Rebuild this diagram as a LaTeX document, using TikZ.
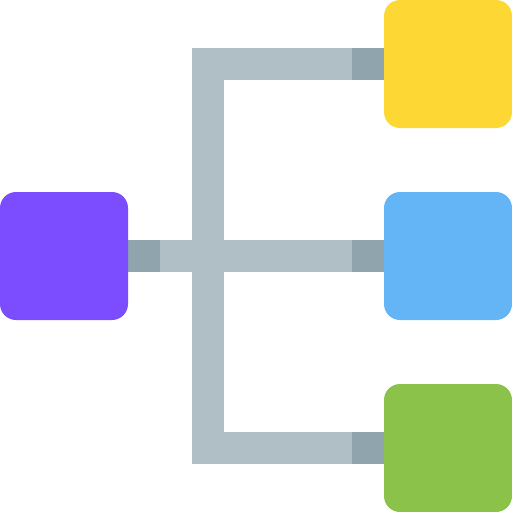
\documentclass[tikz,border=0pt]{standalone}
\definecolor{cpurple}{HTML}{7C4DFF}
\definecolor{cyellow}{HTML}{FDD835}
\definecolor{cblue}{HTML}{64B5F6}
\definecolor{cgreen}{HTML}{8BC34A}
\definecolor{cbar}{HTML}{B0BEC5}
\definecolor{cbardark}{HTML}{90A4AE}
\begin{document}
\begin{tikzpicture}[x=1pt,y=-1pt,
  box/.style={minimum width=128pt,minimum height=128pt,rounded corners=16pt,inner sep=0pt,outer sep=0pt,draw=none},
  bar/.style={fill=cbar},
  bardark/.style={fill=cbardark}]
\useasboundingbox (0,0) rectangle (512,512);
% bars
\fill[bar] (192,48) rectangle (224,464);
\fill[bar] (192,48) rectangle (352,80);
\fill[bar] (160,240) rectangle (352,272);
\fill[bar] (192,432) rectangle (352,464);
\fill[bardark] (352,48) rectangle (384,80);
\fill[bardark] (352,240) rectangle (384,272);
\fill[bardark] (352,432) rectangle (384,464);
\fill[bardark] (128,240) rectangle (160,272);
% boxes
\node[box,fill=cpurple] (src) at (64,256) {};
\node[box,fill=cyellow] (top) at (448,64) {};
\node[box,fill=cblue] (mid) at (448,256) {};
\node[box,fill=cgreen] (bot) at (448,448) {};
\end{tikzpicture}
\end{document}
